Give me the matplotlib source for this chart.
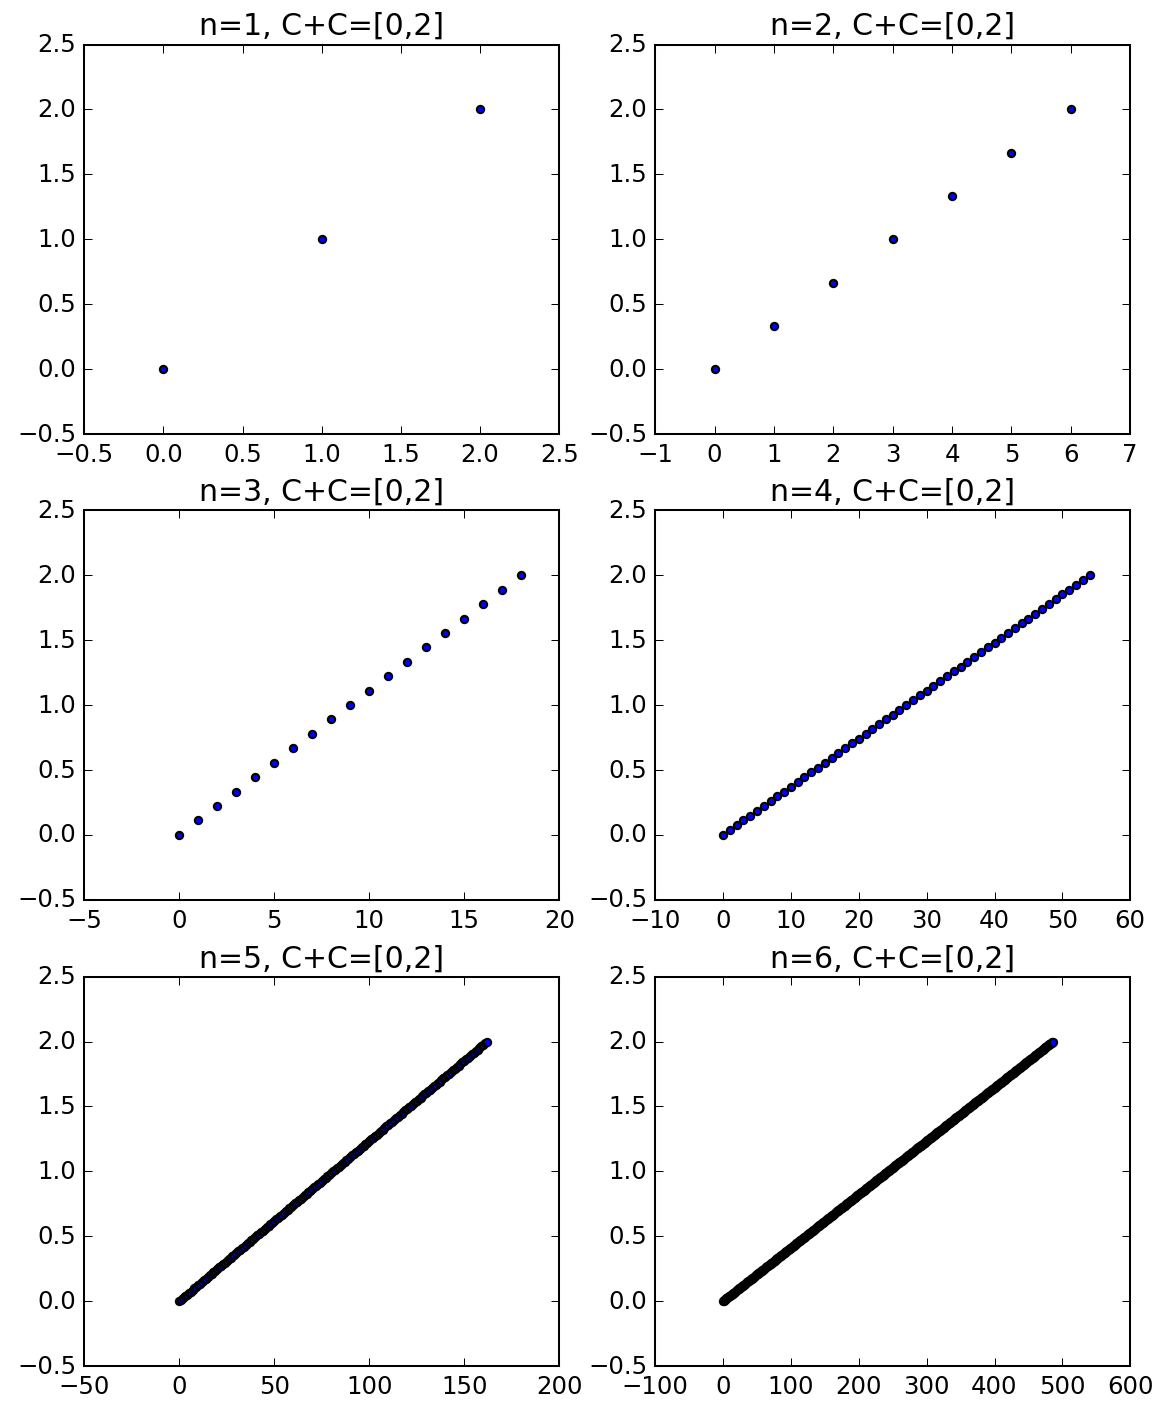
import matplotlib
matplotlib.use("Agg")
import matplotlib.pyplot as plt
import numpy as np

plt.style.use('classic')

# level n, largest integer index at that level (points are 0..top)
levels = [1, 2, 3, 4, 5, 6]
top_index = [2, 6, 18, 54, 162, 486]
y_top = 2.0

# axis limits
x_limits = [(-0.5, 2.5), (-1, 7), (-5, 20), (-10, 60), (-50, 200), (-100, 600)]
y_limits = (-0.5, 2.5)

fig = plt.figure(figsize=(8, 9.68), dpi=146.25, facecolor='white')

lefts = [0.072, 0.560]
bottoms = [0.693, 0.364, 0.0346]
w, h = 0.406, 0.275

for i, n in enumerate(levels):
    ax = fig.add_axes([lefts[i % 2], bottoms[i // 2], w, h])
    x = np.arange(top_index[i] + 1)
    y = x * y_top / top_index[i]
    ax.scatter(x, y, s=13, c='b', edgecolors='k', linewidths=1)
    ax.set_xlim(*x_limits[i])
    ax.set_ylim(*y_limits)
    ax.set_yticks(np.arange(-0.5, 2.51, 0.5))
    ax.set_title('n=%d, C+C=[0,2]' % n, fontsize=14.8, pad=5)

fig.savefig('out.png', dpi=146.25, facecolor='white')
